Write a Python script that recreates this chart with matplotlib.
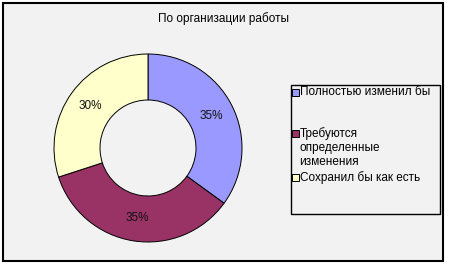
import matplotlib.pyplot as plt
from matplotlib.patches import Rectangle

# data
title = 'По организации работы'
labels = ['Полностью изменил бы', 'Требуются\nопределенные\nизменения', 'Сохранил бы как есть']
values = [35, 35, 30]
colors = ['#9999ff', '#993366', '#ffffcc']

W, H = 449, 266
plt.rcParams['font.family'] = ['Liberation Sans', 'DejaVu Sans']

fig = plt.figure(figsize=(W / 100, H / 100), dpi=100, facecolor='white')


def fx(px):
	return px / W


def fy(py):
	return 1 - py / H


# chart area frame
fig.patches.append(Rectangle((fx(3), fy(261)), fx(440), 258 / H, transform=fig.transFigure,
	facecolor='#f2f2f2', edgecolor='black', linewidth=1.5, zorder=-5))

fig.text(fx(223), fy(19), title, ha='center', va='center', fontsize=8.5)

# donut
ax = fig.add_axes([fx(48), fy(248), 200 / W, 200 / H])
ax.set_facecolor('none')
wedges, texts, autotexts = ax.pie(values, colors=colors, startangle=90, counterclock=False,
	radius=0.94, autopct='%1.0f%%', pctdistance=0.755,
	wedgeprops=dict(width=0.46, edgecolor='black', linewidth=0.7),
	textprops=dict(fontsize=8.5, color='#111111'))
ax.set_xlim(-1, 1)
ax.set_ylim(-1, 1)

# legend
fig.patches.append(Rectangle((fx(291), fy(214)), fx(149), 129 / H, transform=fig.transFigure,
	facecolor='#f2f2f2', edgecolor='black', linewidth=1.0, zorder=1))
rows = [92, 133, 177]
for lab, col, y in zip(labels, colors, rows):
	fig.patches.append(Rectangle((fx(291.5), fy(y + 3.5)), fx(7), 7 / H, transform=fig.transFigure,
		facecolor=col, edgecolor='black', linewidth=0.7, zorder=2))
	fig.text(fx(299.5), fy(y - 6), lab, ha='left', va='top', fontsize=8.5, linespacing=1.2, zorder=3)

fig.savefig('out.png', dpi=100, facecolor='white')
